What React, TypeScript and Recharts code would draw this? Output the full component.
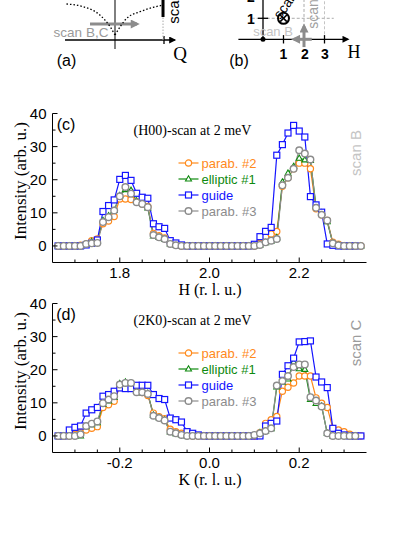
import React from 'react'
import { LineChart, Line, XAxis, YAxis, ReferenceLine, ReferenceDot } from 'recharts'

const SANS = '"Liberation Sans", Arial, sans-serif'
const SERIF = '"Liberation Serif", "Times New Roman", serif'

// scan points (r. l. u.)
const hPoints = [
  1.6625, 1.675, 1.6875, 1.7, 1.7125, 1.725, 1.7375, 1.75, 1.7625, 1.775, 1.7875, 1.8, 1.8125, 1.825,
  1.8375, 1.85, 1.8625, 1.875, 1.8875, 1.9, 1.9125, 1.925, 1.9375, 1.95, 1.9625, 1.975, 1.9875, 2.0,
  2.0125, 2.025, 2.0375, 2.05, 2.0625, 2.075, 2.0875, 2.1, 2.1125, 2.125, 2.1375, 2.15, 2.1625, 2.175,
  2.1875, 2.2, 2.2125, 2.225, 2.2375, 2.25, 2.2625, 2.275, 2.2875, 2.3, 2.3125, 2.325, 2.3375,
]
const kPoints = [
  -0.3375, -0.325, -0.3125, -0.3, -0.2875, -0.275, -0.2625, -0.25, -0.2375, -0.225, -0.2125, -0.2, -0.1875, -0.175,
  -0.1625, -0.15, -0.1375, -0.125, -0.1125, -0.1, -0.0875, -0.075, -0.0625, -0.05, -0.0375, -0.025, -0.0125, 0,
  0.0125, 0.025, 0.0375, 0.05, 0.0625, 0.075, 0.0875, 0.1, 0.1125, 0.125, 0.1375, 0.15, 0.1625, 0.175,
  0.1875, 0.2, 0.2125, 0.225, 0.2375, 0.25, 0.2625, 0.275, 0.2875, 0.3, 0.3125, 0.325, 0.3375,
]

// (c) (H00)-scan
const cParab2 = [0, 0, 0, 0, 0.2, 0.6, 1.6, 2.1, 6.7, 7.5, 8.9, 14.2, 14.2, 14.0, 13.4, 12.7, 11.9, 3.8, 3.1, 2.4, 1.1, 0.4,
  0, 0, 0, 0, 0, 0, 0, 0, 0, 0, 0, 0, 0, 0, 0.8,
  2.8, 3.6, 4.4, 18.0, 20.6, 23.3, 25.0, 25.0, 23.3, 11.2, 9.4, 7.7, 1.1, 0.5, 0, 0, 0, 0]
const cElliptic1 = [0, 0, 0, 0, 0, 0.5, 1.3, 1.5, 7.7, 9.1, 10.7, 15.2, 17.0, 16.8, 13.6, 13.1, 11.5, 3.0, 2.6, 2.0, 0.6, 0.2,
  0, 0, 0, 0, 0, 0, 0, 0, 0, 0, 0, 0, 0, 0, 0.3,
  1.0, 1.5, 2.5, 19.3, 22.0, 24.0, 26.5, 26.0, 25.8, 12.0, 10.0, 7.3, 0.8, 0.2, 0, 0, 0, 0]
const cGuide = [0, 0, 0, 0, 0, 0.3, 0.8, 1.8, 10.4, 12.2, 13.9, 20.1, 21.3, 19.8, 15.9, 14.7, 14.4, 6.7, 5.8, 5.3, 1.6, 0.9,
  0.3, 0, 0, 0, 0, 0, 0, 0, 0, 0, 0, 0, 0, 0.5,
  2.8, 4.4, 5.6, 27.4, 30.6, 34.1, 36.4, 34.7, 32.9, 14.9, 12.4, 10.2, 0.6, 0.2, 0, 0, 0, 0]
const cParab3 = [0, 0, 0, 0, 0, 0.6, 0.8, 0.9, 7.2, 8.7, 10.7, 15.0, 17.8, 15.8, 13.2, 12.7, 11.7, 3.3, 2.6, 2.1, 0.6, 0.2,
  0, 0, 0, 0, 0, 0, 0, 0, 0, 0, 0, 0, 0, 0, 0.3,
  1.1, 1.6, 2.1, 18.3, 20.6, 23.3, 28.9, 27.9, 26.1, 11.5, 9.4, 7.7, 0.8, 0.2, 0, 0, 0, 0]

// (d) (2K0)-scan
const dParab2 = [0, 0, 0, 0.5, 1.0, 1.8, 2.3, 2.8, 8.6, 9.4, 10.5, 14.7, 15.2, 15.0, 13.7, 13.1, 12.2, 6.9, 5.8, 5.2, 2.0, 1.3,
  0.8, 0.4, 0, 0, 0, 0, 0, 0, 0, 0, 0, 0, 0, 0, 1.0,
  3.8, 4.9, 5.9, 13.5, 14.7, 16.0, 18.1, 18.1, 18.1, 11.5, 9.9, 8.6, 2.3, 1.8, 1.3, 0.5, 0, 0]
const dElliptic1 = [0, 0, 0, 0, 0, 2.8, 3.4, 4.0, 9.5, 10.6, 11.6, 15.8, 16.3, 16.0, 13.5, 13.0, 12.9, 6.3, 5.5, 4.8, 1.2, 0.7,
  0.3, 0, 0, 0, 0, 0, 0, 0, 0, 0, 0, 0, 0, 0,
  1.0, 1.5, 2.2, 14.8, 16.2, 17.2, 22.3, 20.3, 20.1, 11.0, 9.8, 9.0, 0.8, 0, 0, 0, 0, 0]
const dGuide = [0, 0, 1.8, 2.6, 3.0, 6.9, 7.9, 8.6, 12.0, 12.5, 13.5, 14.5, 14.3, 14.3, 15.3, 15.3, 15.3, 12.5, 11.3, 11.0, 5.4, 4.9,
  4.2, 1.3, 0.8, 0.3, 0, 0, 0, 0, 0, 0, 0, 0, 0, 0, 0,
  3.0, 3.8, 4.5, 18.6, 21.2, 23.5, 28.4, 28.5, 28.7, 17.8, 16.3, 14.6, 2.3, 0.8, 0.3, 0, 0, 0]
const dParab3 = [0, 0, 0, 0, 0.5, 3.0, 3.7, 4.4, 9.9, 11.0, 12.0, 15.5, 16.0, 16.0, 13.2, 13.2, 12.7, 6.1, 5.4, 4.7, 1.3, 0.8,
  0.3, 0, 0, 0, 0, 0, 0, 0, 0, 0, 0, 0, 0, 0.3,
  0.8, 1.5, 2.3, 15.2, 16.6, 18.1, 20.8, 21.6, 21.6, 11.7, 10.7, 8.9, 0.8, 0, 0, 0, 0, 0]

const seriesNames = ['parab. #2', 'elliptic #1', 'guide', 'parab. #3']
const seriesColors = ['#ff8a1c', '#0f8a0f', '#1414ff', '#8c8c8c']
const seriesShapes = ['circle', 'triangle', 'square', 'circle']

const yTicks = [0, 5, 10, 15, 20, 25, 30, 35, 40]
const hTicks = [1.7, 1.75, 1.8, 1.85, 1.9, 1.95, 2.0, 2.05, 2.1, 2.15, 2.2, 2.25, 2.3]
const kTicks = [-0.3, -0.25, -0.2, -0.15, -0.1, -0.05, 0, 0.05, 0.1, 0.15, 0.2, 0.25, 0.3]

// schematic (a): dispersion branches, Q vs energy
const branchLeftQ = [-0.99, -0.65, -0.31, -0.1, 0]
const branchLeftE = [3.6, 3.33, 2.5, 1.33, 0.5]
const branchRightQ = [0, 0.24, 0.51, 0.78, 0.99]
const branchRightE = [0.5, 2.17, 2.83, 3.27, 3.5]
const aQTicks = [-1.05, -0.8, -0.55, -0.3, -0.05, 0.2, 0.45, 0.7, 0.95, 1.2, 1.45]
const aETicks = [-1.83, -0.67, 0.5, 1.67, 2.83, 4.0, 5.17, 6.33, 7.5]
// schematic (b): reciprocal plane
const bHTicks = [-1.3, -0.7, -0.1, 0.5, 1.1, 1.7, 2.3, 2.9, 3.5, 4.1, 4.7]
const bKTicks = [-0.9, -0.35, 0.2, 0.76, 1.31, 1.87, 2.43, 2.99, 3.55]

function Marker({ cx, cy, color, shape }: any) {
  if (shape === 'square')
    return <rect x={cx - 3} y={cy - 3} width={6} height={6} fill="#fff" stroke={color} strokeWidth={1.2} />
  if (shape === 'triangle')
    return <polygon points={`${cx},${cy - 3.2} ${cx + 3},${cy + 2} ${cx - 3},${cy + 2}`} fill="#fff" stroke={color} strokeWidth={1.1} />
  const gray = color === '#8c8c8c'
  return <circle cx={cx} cy={cy} r={gray ? 3.3 : 3.1} fill="#fff" stroke={color} strokeWidth={gray ? 1.4 : 1.2} />
}

function makeTick(side: string, isMajor: (v: number) => boolean, fmt?: (v: number) => string, color = '#000', big = 5, small = 3) {
  return (p: any) => {
    const v = p.payload.value
    const major = isMajor(v)
    const len = major ? big : small
    const { x, y } = p
    let ln = null
    if (side === 'bottom') ln = <line x1={x} y1={y} x2={x} y2={y - len} stroke={color} />
    if (side === 'top') ln = <line x1={x} y1={y} x2={x} y2={y + len} stroke={color} />
    if (side === 'left') ln = <line x1={x} y1={y} x2={x + len} y2={y} stroke={color} />
    if (side === 'right') ln = <line x1={x} y1={y} x2={x - len} y2={y} stroke={color} />
    let label = null
    if (fmt && major) {
      if (side === 'bottom')
        label = <text x={x} y={y + 15} textAnchor="middle" fontFamily={SANS} fontSize={15} fill="#000">{fmt(v)}</text>
      if (side === 'left')
        label = <text x={x - 6} y={y + 5.5} textAnchor="end" fontFamily={SANS} fontSize={15} fill="#000">{fmt(v)}</text>
    }
    return <g>{ln}{label}</g>
  }
}

const isTen = (v: number) => Math.abs(v / 10 - Math.round(v / 10)) < 1e-6
const isFifth = (v: number) => Math.abs(v * 5 - Math.round(v * 5)) < 1e-6
const none = () => false

function Txt({ x, y, size, children, family = SANS, color = '#000', rotate = 0, weight = 400 }: any) {
  return (
    <div style={{ position: 'absolute', left: x, top: y, transform: `translate(-50%, -50%) rotate(${rotate}deg)`, fontFamily: family, fontSize: size, color, whiteSpace: 'nowrap', lineHeight: 1, fontWeight: weight }}>
      {children}
    </div>
  )
}

function ScanPanel({ top, xs, values, xDomain, xTicks, tag, title, scanText, scanColor, xLabel }: any) {
  const keys = ['p2', 'e1', 'g', 'p3']
  const rows = xs.map((x: number, i: number) => {
    const row: any = { x }
    keys.forEach((k, j) => (row[k] = values[j][i]))
    return row
  })
  const axis = { tickSize: 0, tickMargin: 0, tickLine: false, interval: 0 as const, allowDataOverflow: true, axisLine: { stroke: '#000' } }
  return (
    <div style={{ position: 'absolute', left: 0, top, width: 415, height: 200 }}>
      <LineChart width={415} height={200} data={rows} margin={{ top: 18.5, right: 48.5, bottom: 2.5, left: 0.5 }}>
        <XAxis xAxisId="b" dataKey="x" type="number" domain={xDomain} ticks={xTicks} height={30} {...axis}
          tick={makeTick('bottom', isFifth, (v) => v.toFixed(1))} />
        <XAxis xAxisId="t" orientation="top" dataKey="x" type="number" domain={xDomain} ticks={xTicks} height={0} {...axis}
          tick={makeTick('top', isFifth)} />
        <YAxis yAxisId="l" type="number" domain={[-5, 40]} ticks={yTicks} width={52} {...axis}
          tick={makeTick('left', isTen, (v) => String(v))} />
        <YAxis yAxisId="r" orientation="right" type="number" domain={[-5, 40]} ticks={yTicks} width={0} {...axis}
          tick={makeTick('right', isTen)} />
        {keys.map((k, j) => (
          <Line key={k} xAxisId="b" yAxisId="l" dataKey={k} type="linear" stroke={seriesColors[j]} strokeWidth={1.2}
            isAnimationActive={false}
            dot={(p: any) => <Marker key={`${k}${p.index}`} cx={p.cx} cy={p.cy} color={seriesColors[j]} shape={seriesShapes[j]} />} />
        ))}
      </LineChart>
      <Txt x={66} y={30} size={16}>{tag}</Txt>
      <Txt x={192.5} y={36} size={14} family={SERIF}>{title}</Txt>
      <Txt x={355} y={58} size={15} color={scanColor} rotate={-90}>{scanText}</Txt>
      <Txt x={20} y={86} size={17} family={SERIF} rotate={-90}>Intensity (arb. u.)</Txt>
      <Txt x={210} y={195} size={16} family={SERIF}>{xLabel}</Txt>
      <div style={{ position: 'absolute', left: 177.5, top: 60 }}>
        {seriesNames.map((n, j) => (
          <div key={n} style={{ display: 'flex', alignItems: 'center', height: 16 }}>
            <svg width={21} height={12}>
              <line x1={0.5} y1={6} x2={20.5} y2={6} stroke={seriesColors[j]} strokeWidth={1.2} />
              <Marker cx={10.5} cy={6} color={seriesColors[j]} shape={seriesShapes[j]} />
            </svg>
            <span style={{ fontFamily: SANS, fontSize: 13, color: seriesColors[j], marginLeft: 3, lineHeight: 1 }}>{n}</span>
          </div>
        ))}
      </div>
    </div>
  )
}

const arrow = (id: string) => (p: any) => (
  <line x1={p.x1} y1={p.y1} x2={p.x2} y2={p.y2} stroke={p.stroke} strokeWidth={p.strokeWidth} markerEnd={`url(#${id})`} />
)

function SchematicA() {
  const left = branchLeftQ.map((q, i) => ({ q, e: branchLeftE[i] }))
  const right = branchRightQ.map((q, i) => ({ q, e: branchRightE[i] }))
  const axis = { tickSize: 0, tickMargin: 0, tickLine: false, interval: 0 as const, allowDataOverflow: true, axisLine: { stroke: '#444' } }
  const ref = { xAxisId: 'b', yAxisId: 'l', ifOverflow: 'visible' as const }
  return (
    <div style={{ position: 'absolute', left: 52, top: -48, width: 145, height: 121 }}>
      <LineChart width={145} height={121} margin={{ top: 0.5, right: 0.5, bottom: 0.5, left: 0.5 }}>
        <XAxis xAxisId="b" type="number" dataKey="q" domain={[-1.2755, 1.6633]} ticks={aQTicks} height={0} {...axis} tick={makeTick('bottom', none, undefined, '#444')} />
        <XAxis xAxisId="t" orientation="top" type="number" dataKey="q" domain={[-1.2755, 1.6633]} ticks={aQTicks} height={0} {...axis} tick={makeTick('top', none, undefined, '#444')} />
        <YAxis yAxisId="l" type="number" domain={[-3.25, 8.75]} ticks={aETicks} width={0} {...axis} tick={makeTick('left', none, undefined, '#444')} />
        <YAxis yAxisId="r" orientation="right" type="number" domain={[-3.25, 8.75]} ticks={aETicks} width={0} {...axis} tick={makeTick('right', none, undefined, '#444')} />
        <ReferenceLine {...ref} segment={[{ x: 0, y: -0.9 }, { x: 0, y: 8.7 }]} stroke="#555" strokeWidth={1.5} />
        <ReferenceLine {...ref} segment={[{ x: -1.02, y: 0 }, { x: 1.22, y: 0 }]} stroke="#000" strokeWidth={1.3} shape={arrow('arrK')} />
        <ReferenceLine {...ref} segment={[{ x: 1.0, y: -0.4 }, { x: 1.0, y: 0.4 }]} stroke="#000" strokeWidth={1.3} />
        <ReferenceLine {...ref} segment={[{ x: 0.98, y: 0 }, { x: 0.98, y: 2.3 }]} stroke="#aaa" strokeWidth={1} strokeDasharray="1.5 1.5" />
        <ReferenceLine {...ref} segment={[{ x: 0.98, y: 2.3 }, { x: 0.98, y: 8.2 }]} stroke="#000" strokeWidth={3} shape={arrow('arrKb')} />
        <ReferenceLine {...ref} segment={[{ x: -0.51, y: 1.6 }, { x: 0.45, y: 1.6 }]} stroke="#8c8c8c" strokeWidth={3} shape={arrow('arrG')} />
        <Line xAxisId="b" yAxisId="l" data={left} dataKey="e" type="monotone" stroke="#000" strokeWidth={1.3} strokeDasharray="1.5 2" dot={false} isAnimationActive={false} />
        <Line xAxisId="b" yAxisId="l" data={right} dataKey="e" type="monotone" stroke="#000" strokeWidth={1.3} strokeDasharray="1.5 2" dot={false} isAnimationActive={false} />
      </LineChart>
    </div>
  )
}

function SchematicB() {
  const axis = { tickSize: 0, tickMargin: 0, tickLine: false, interval: 0 as const, allowDataOverflow: true, axisLine: { stroke: '#444' } }
  const ref = { xAxisId: 'b', yAxisId: 'l', ifOverflow: 'visible' as const }
  const hDom = [-1.878, 5.195]
  const kDom = [-1.581, 4.133]
  return (
    <div style={{ position: 'absolute', left: 224, top: -48, width: 146, height: 121 }}>
      <LineChart width={146} height={121} margin={{ top: 0.5, right: 0.5, bottom: 0.5, left: 0.5 }}>
        <XAxis xAxisId="b" type="number" dataKey="h" domain={hDom} ticks={bHTicks} height={0} {...axis} tick={makeTick('bottom', none, undefined, '#444')} />
        <XAxis xAxisId="t" orientation="top" type="number" dataKey="h" domain={hDom} ticks={bHTicks} height={0} {...axis} tick={makeTick('top', none, undefined, '#444')} />
        <YAxis yAxisId="l" type="number" domain={kDom} ticks={bKTicks} width={0} {...axis} tick={makeTick('left', none, undefined, '#444')} />
        <YAxis yAxisId="r" orientation="right" type="number" domain={kDom} ticks={bKTicks} width={0} {...axis} tick={makeTick('right', none, undefined, '#444')} />
        <ReferenceLine {...ref} segment={[{ x: -0.55, y: 1 }, { x: 3.45, y: 1 }]} stroke="#aaa" strokeDasharray="3 2" />
        <ReferenceLine {...ref} segment={[{ x: 2, y: 0.35 }, { x: 2, y: 4.1 }]} stroke="#aaa" strokeDasharray="3 2" />
        <ReferenceLine {...ref} segment={[{ x: 3, y: 0 }, { x: 3, y: 4.1 }]} stroke="#c4c4c4" strokeDasharray="3 2" />
        <ReferenceLine {...ref} segment={[{ x: -1.2, y: 0 }, { x: 4.15, y: 0 }]} stroke="#000" strokeWidth={1.3} shape={arrow('arrK')} />
        <ReferenceLine {...ref} segment={[{ x: 0, y: 0 }, { x: 0, y: 4.1 }]} stroke="#000" strokeWidth={1.3} />
        {[1, 2, 3].map((h) => (
          <ReferenceLine key={h} {...ref} segment={[{ x: h, y: -0.2 }, { x: h, y: 0.2 }]} stroke="#000" strokeWidth={1.3} />
        ))}
        {[1, 2].map((k) => (
          <ReferenceLine key={k} {...ref} segment={[{ x: -0.25, y: k }, { x: 0.25, y: k }]} stroke="#000" strokeWidth={1.3} />
        ))}
        <ReferenceLine {...ref} segment={[{ x: 2.38, y: 0 }, { x: 1.5, y: 0 }]} stroke="#8c8c8c" strokeWidth={3} shape={arrow('arrG')} />
        <ReferenceLine {...ref} segment={[{ x: 2, y: -0.37 }, { x: 2, y: 0.62 }]} stroke="#8c8c8c" strokeWidth={3} shape={arrow('arrG')} />
        <ReferenceDot {...ref} x={0} y={0} r={2.5} fill="#000" stroke="none" />
        <ReferenceDot {...ref} x={1} y={1} shape={(p: any) => (
          <g>
            <circle cx={p.cx} cy={p.cy} r={5.5} fill="#fff" stroke="#000" strokeWidth={2} />
            <line x1={p.cx - 3.3} y1={p.cy - 3.3} x2={p.cx + 3.3} y2={p.cy + 3.3} stroke="#000" strokeWidth={1.6} />
            <line x1={p.cx - 3.3} y1={p.cy + 3.3} x2={p.cx + 3.3} y2={p.cy - 3.3} stroke="#000" strokeWidth={1.6} />
          </g>
        )} />
      </LineChart>
    </div>
  )
}

export default function App() {
  return (
    <div style={{ position: 'absolute', left: 0, top: 0, width: 415, height: 537, overflow: 'hidden', background: '#fff' }}>
      <svg width={0} height={0} style={{ position: 'absolute' }}>
        <defs>
          <marker id="arrK" viewBox="0 0 10 10" refX={8} refY={5} markerWidth={8} markerHeight={7} markerUnits="userSpaceOnUse" orient="auto">
            <path d="M0,0 L10,5 L0,10 z" fill="#000" />
          </marker>
          <marker id="arrKb" viewBox="0 0 10 10" refX={8} refY={5} markerWidth={10} markerHeight={9} markerUnits="userSpaceOnUse" orient="auto">
            <path d="M0,0 L10,5 L0,10 z" fill="#000" />
          </marker>
          <marker id="arrG" viewBox="0 0 10 10" refX={7} refY={5} markerWidth={10} markerHeight={9} markerUnits="userSpaceOnUse" orient="auto">
            <path d="M0,0 L10,5 L0,10 z" fill="#8c8c8c" />
          </marker>
        </defs>
      </svg>
      <SchematicA />
      <SchematicB />
      <Txt x={66.5} y={61} size={16}>(a)</Txt>
      <Txt x={180} y={53} size={19} family={SERIF}>Q</Txt>
      <Txt x={81} y={33} size={13.5} color="#9a9a9a">scan B,C</Txt>
      <Txt x={173} y={8} size={15} rotate={-90}>scan</Txt>
      <Txt x={239} y={61} size={16}>(b)</Txt>
      <Txt x={354} y={52} size={18} family={SERIF}>H</Txt>
      <Txt x={283.5} y={53.5} size={14} weight={700}>1</Txt>
      <Txt x={305} y={53.5} size={14} weight={700}>2</Txt>
      <Txt x={325} y={53.5} size={14} weight={700}>3</Txt>
      <Txt x={251} y={19} size={14} weight={700}>1</Txt>
      <Txt x={251} y={-3} size={14} weight={700}>2</Txt>
      <Txt x={285} y={5} size={14} rotate={-55}>scan</Txt>
      <Txt x={273} y={31} size={13} color="#c4c4c4">scan B</Txt>
      <Txt x={313} y={14} size={14} color="#a0a0a0" rotate={-90}>scan</Txt>
      <ScanPanel top={95} xs={hPoints} values={[cParab2, cElliptic1, cGuide, cParab3]} xDomain={[1.65, 2.35]} xTicks={hTicks}
        tag="(c)" title="(H00)-scan at 2 meV" scanText="scan B" scanColor="#c4c4c4" xLabel="H (r. l. u.)" />
      <ScanPanel top={285} xs={kPoints} values={[dParab2, dElliptic1, dGuide, dParab3]} xDomain={[-0.35, 0.35]} xTicks={kTicks}
        tag="(d)" title="(2K0)-scan at 2 meV" scanText="scan C" scanColor="#9c9c9c" xLabel="K (r. l. u.)" />
    </div>
  )
}
